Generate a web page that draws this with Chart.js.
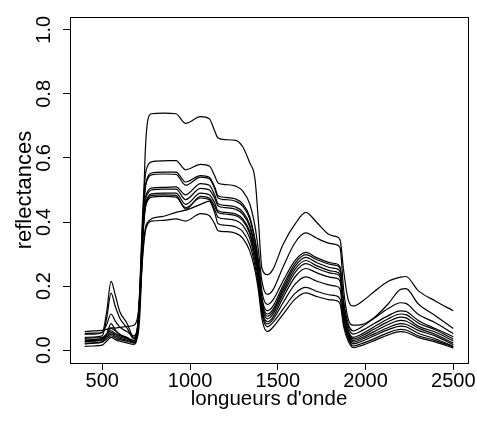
<!DOCTYPE html>
<html lang="fr">
<head>
    <meta charset="UTF-8">
    <title>reflectances</title>
    <style>
        html, body { margin: 0; padding: 0; background: #fff; }
        #cadre { width: 477px; height: 423px; }
    </style>
</head>
<body>
    <div id="cadre">
        <canvas id="spectres"></canvas>
    </div>

    <script src="https://cdn.jsdelivr.net/npm/chart.js"></script>

    <script>
        // longueurs d'onde (nm) communes a toutes les courbes
        const longueurs = [400,450,500,525,550,575,600,640,680,700,715,730,745,760,780,850,920,975,1060,1110,1140,1160,1200,1260,1300,1340,1370,1390,1410,1440,1470,1530,1600,1660,1720,1790,1830,1855,1875,1900,1930,1980,2050,2130,2200,2230,2300,2400,2500]

        // reflectances, une liste par spectre
        const spectre1 = [.03,.03,.035,.05,.068,.06,.05,.04,.03,.04,.12,.35,.62,.72,.738,.74,.738,.708,.729,.722,.685,.662,.657,.655,.635,.585,.535,.40,.255,.236,.25,.33,.395,.43,.40,.362,.355,.345,.25,.16,.138,.152,.183,.215,.228,.23,.186,.153,.123]
        const spectre2 = [.02,.022,.025,.05,.083,.063,.048,.037,.025,.055,.21,.43,.545,.577,.588,.591,.592,.563,.58,.575,.545,.522,.517,.512,.497,.457,.387,.31,.214,.174,.186,.26,.337,.366,.35,.334,.33,.32,.19,.10,.078,.08,.102,.145,.19,.192,.145,.107,.068]
        const spectre3 = [.05,.05,.055,.12,.215,.17,.12,.085,.04,.07,.20,.40,.51,.542,.553,.556,.556,.525,.545,.54,.51,.482,.477,.472,.457,.417,.347,.28,.183,.143,.155,.216,.281,.305,.289,.274,.27,.26,.155,.085,.06,.073,.10,.13,.148,.146,.112,.085,.052]
        const spectre4 = [.04,.041,.045,.10,.178,.135,.10,.07,.035,.065,.19,.39,.505,.536,.547,.55,.549,.515,.54,.535,.505,.475,.47,.465,.45,.41,.34,.265,.163,.123,.135,.202,.272,.298,.283,.269,.265,.255,.145,.075,.05,.061,.083,.108,.123,.121,.093,.067,.042]
        const spectre5 = [.052,.053,.056,.08,.113,.09,.072,.058,.045,.07,.18,.37,.47,.497,.506,.508,.51,.485,.52,.515,.485,.457,.452,.447,.432,.392,.322,.25,.153,.113,.125,.193,.263,.29,.274,.259,.255,.245,.135,.065,.04,.051,.073,.098,.113,.111,.085,.063,.035]
        const spectre6 = [.037,.038,.04,.05,.06,.052,.045,.038,.03,.06,.18,.36,.465,.49,.50,.503,.503,.47,.505,.50,.475,.45,.445,.44,.425,.385,.315,.245,.146,.106,.118,.184,.254,.28,.264,.249,.245,.235,.13,.06,.035,.045,.066,.089,.103,.101,.075,.056,.029]
        const spectre7 = [.032,.033,.036,.045,.055,.048,.041,.035,.028,.058,.17,.35,.452,.478,.488,.49,.49,.455,.49,.485,.46,.435,.43,.425,.41,.37,.30,.235,.138,.098,.11,.175,.244,.27,.256,.242,.238,.228,.12,.055,.03,.039,.058,.08,.093,.091,.069,.049,.022]
        const spectre8 = [.027,.028,.031,.04,.05,.043,.037,.031,.025,.055,.17,.35,.447,.473,.483,.485,.483,.44,.48,.475,.45,.43,.425,.42,.405,.365,.295,.23,.129,.089,.101,.164,.23,.255,.242,.229,.225,.215,.115,.05,.025,.034,.051,.071,.083,.081,.062,.044,.017]
        const spectre9 = [.022,.023,.026,.035,.045,.038,.033,.028,.022,.05,.165,.345,.442,.468,.478,.48,.478,.445,.475,.47,.44,.415,.41,.405,.39,.35,.28,.215,.122,.082,.094,.148,.207,.229,.216,.204,.20,.19,.10,.045,.02,.028,.045,.064,.075,.073,.053,.035,.012]
        const spectre10 = [.058,.06,.062,.065,.07,.069,.071,.074,.078,.10,.17,.30,.38,.40,.41,.418,.43,.437,.455,.465,.43,.395,.39,.385,.37,.33,.265,.20,.113,.073,.085,.128,.178,.196,.184,.173,.17,.16,.085,.038,.013,.021,.036,.055,.065,.063,.045,.03,.01]
        const spectre11 = [.012,.013,.016,.028,.04,.033,.028,.023,.018,.045,.15,.29,.37,.395,.403,.405,.41,.403,.426,.42,.395,.373,.37,.365,.35,.31,.25,.185,.098,.058,.07,.112,.16,.179,.168,.158,.155,.145,.075,.03,.008,.015,.03,.048,.058,.056,.04,.025,.007]

        const ticksX = [500,1000,1500,2000,2500]
        const ticksY = [0,0.2,0.4,0.6,0.8,1.0]

        const spectres = [spectre1,spectre2,spectre3,spectre4,spectre5,spectre6,spectre7,spectre8,spectre9,spectre10,spectre11]

        const police = "'Liberation Sans', Arial, Helvetica, sans-serif"
        Chart.defaults.font.family = police
        Chart.defaults.color = '#000'

        // cadre autour de la zone de trace (box() de R)
        const cadre = {
            id: 'cadre',
            afterDraw(chart) {
                const {ctx, chartArea: a} = chart
                ctx.save()
                ctx.strokeStyle = '#000'
                ctx.lineWidth = 1
                ctx.strokeRect(a.left + 0.5, a.top + 0.5, a.right - a.left, a.bottom - a.top)
                ctx.restore()
            }
        }

        const ctx = document.getElementById('spectres')

        new Chart(ctx, {
            type: 'line',
            data: {
                datasets: spectres.map(s => ({
                    data: longueurs.map((w, i) => ({x: w, y: s[i]})),
                    borderColor: '#000',
                    borderWidth: 1.2,
                    pointRadius: 0,
                    fill: false,
                    cubicInterpolationMode: 'monotone'
                }))
            },
            options: {
                responsive: true,
                maintainAspectRatio: false,
                animation: false,
                layout: { padding: { top: 6, right: 9, left: 0, bottom: 0 } },
                plugins: { legend: { display: false }, tooltip: { enabled: false } },
                scales: {
                    x: {
                        type: 'linear',
                        min: 316,
                        max: 2584,
                        afterBuildTicks: s => { s.ticks = ticksX.map(v => ({value: v})) },
                        afterFit: s => { s.height = 60 },
                        border: { display: false },
                        grid: { drawOnChartArea: false, drawTicks: true, tickLength: 7, color: '#000', lineWidth: 1 },
                        ticks: { autoSkip: false, maxRotation: 0, padding: -1, font: { size: 20 }, callback: v => String(v) },
                        title: { display: true, text: "longueurs d'onde", font: { size: 20.5 }, padding: { top: 0, bottom: 11 } }
                    },
                    y: {
                        min: -0.04,
                        max: 1.04,
                        afterBuildTicks: s => { s.ticks = ticksY.map(v => ({value: v})) },
                        afterFit: s => { s.width = 70 },
                        border: { display: false },
                        grid: { drawOnChartArea: false, drawTicks: true, tickLength: 7, color: '#000', lineWidth: 1 },
                        ticks: { autoSkip: false, minRotation: 90, maxRotation: 90, crossAlign: 'center', padding: 5, font: { size: 20 }, callback: v => v.toFixed(1) },
                        title: { display: true, text: 'reflectances', font: { size: 22 }, padding: { top: 12, bottom: 0 } }
                    }
                }
            },
            plugins: [cadre]
        })
    </script>
</body>
</html>
